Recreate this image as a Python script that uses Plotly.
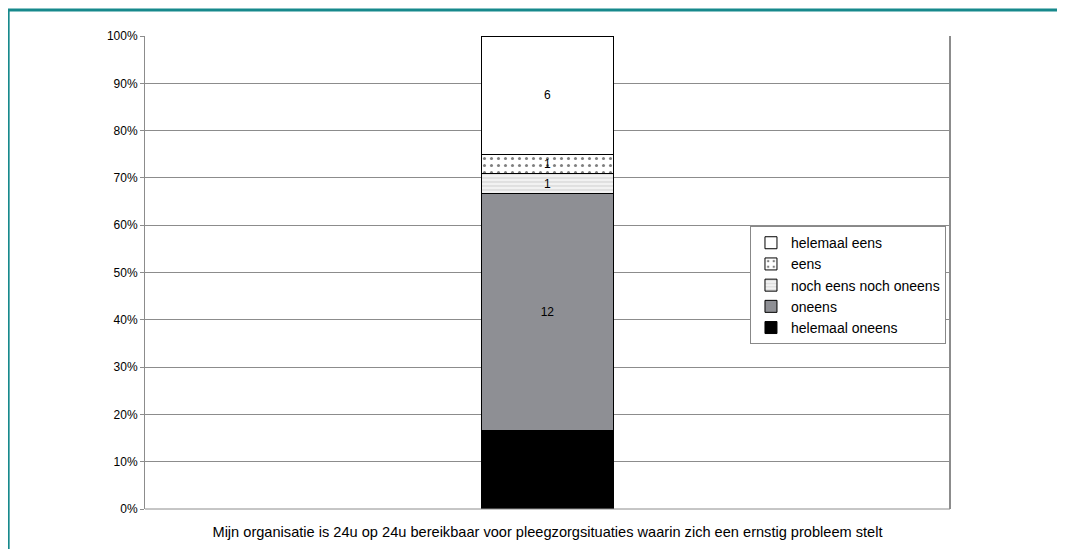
import plotly.graph_objects as go

category = ["Mijn organisatie is 24u op 24u bereikbaar voor pleegzorgsituaties waarin zich een ernstig probleem stelt"]
series_names = ["helemaal oneens", "oneens", "noch eens noch oneens", "eens", "helemaal eens"]
series_values = [4, 12, 1, 1, 6]
y_ticks = [0, 10, 20, 30, 40, 50, 60, 70, 80, 90, 100]
y_tick_labels = [f"{t}%" for t in y_ticks]

colors = ["#000000", "#8e8f94", "#f2f2f2", "#ffffff", "#ffffff"]
patterns = [None, None, dict(shape="-", fgcolor="#b8b8b8", size=4, solidity=0.3),
            dict(shape=".", fgcolor="#000000", size=7, solidity=0.15), None]
text_colors = ["#000000", "#000000", "#000000", "#000000", "#000000"]

fig = go.Figure()
for name, val, col, pat, tc in zip(series_names, series_values, colors, patterns, text_colors):
    marker = dict(color=col, line=dict(color="#000000", width=1))
    if pat:
        marker["pattern"] = pat
    fig.add_trace(go.Bar(
        x=category, y=[val], name=name, marker=marker,
        text=[str(val)], textposition="inside", insidetextanchor="middle",
        textangle=0, constraintext="none",
        textfont=dict(color=tc, size=12, family="Liberation Sans, Arial"),
        width=0.164,
    ))

fig.update_layout(
    barmode="stack", barnorm="percent",
    width=1057, height=541,
    margin=dict(l=137, r=115, t=28, b=40),
    paper_bgcolor="white", plot_bgcolor="white",
    font=dict(family="Liberation Sans, Arial", size=12, color="#000000"),
    showlegend=True,
    uniformtext=dict(minsize=12, mode="show"),
    legend=dict(traceorder="reversed", x=0.995, y=0.598, xanchor="right", yanchor="top",
                bgcolor="white", bordercolor="#888888", borderwidth=1,
                font=dict(size=14), itemwidth=30, tracegroupgap=0),
    xaxis=dict(range=[-0.5, 0.5], showgrid=False, ticks="", showline=False,
               tickfont=dict(size=14.6), ticklabelstandoff=12, automargin=False),
    yaxis=dict(range=[0, 100], tickvals=y_ticks, ticktext=y_tick_labels,
               showgrid=True, gridcolor="#8c8c8c", gridwidth=1,
               showline=True, linecolor="#8c8c8c", linewidth=1,
               ticks="outside", ticklen=4, tickcolor="#8c8c8c",
               tickfont=dict(size=12), zeroline=False, automargin=False),
    shapes=[
        dict(type="line", xref="paper", yref="paper", x0=1, x1=1, y0=0, y1=1,
             line=dict(color="#8c8c8c", width=2)),
        dict(type="line", xref="paper", yref="paper", x0=0, x1=1, y0=0, y1=0,
             line=dict(color="#8c8c8c", width=1)),
        dict(type="rect", xref="paper", yref="paper", x0=-0.170, x1=1.3, y0=-0.3, y1=1.055,
             line=dict(color="#17898c", width=3), fillcolor="rgba(0,0,0,0)", layer="below"),
    ],
)

fig.write_html("out.html")
